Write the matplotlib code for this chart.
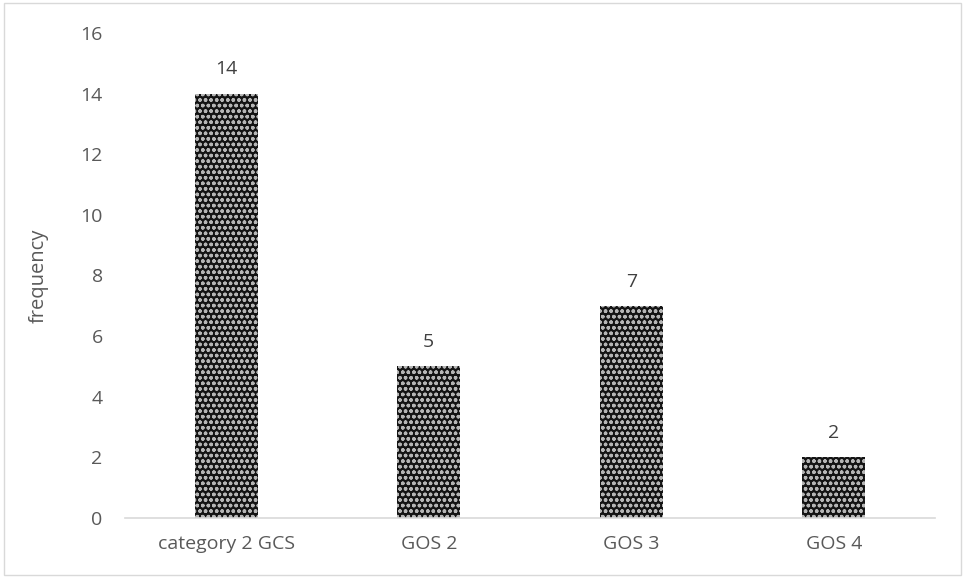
import matplotlib.pyplot as plt
from matplotlib.patches import Rectangle

categories = ['category 2 GCS', 'GOS 2', 'GOS 3', 'GOS 4']
values = [14, 5, 7, 2]
yticks = [0, 2, 4, 6, 8, 10, 12, 14, 16]

plt.rcParams['font.family'] = ['Open Sans', 'DejaVu Sans']
plt.rcParams['hatch.linewidth'] = 1.0

fig = plt.figure(figsize=(9.65, 5.78), dpi=100)
ax = fig.add_axes([0.1295, 0.1038, 0.8395, 0.8392])

bars = ax.bar(range(len(categories)), values, width=0.31,
              color='#141414', edgecolor='#b5b5b5', linewidth=0, hatch='ooo')

for i, v in enumerate(values):
    ax.text(i, v + 0.5, str(v), ha='center', va='bottom', fontsize=14, color='#404040')

ax.set_xlim(-0.5, len(categories) - 0.5)
ax.set_ylim(0, 16)
ax.set_yticks(yticks)
ax.set_xticks(range(len(categories)))
ax.set_xticklabels(categories)
ax.tick_params(axis='both', length=0, labelsize=14, labelcolor='#595959')
ax.tick_params(axis='y', pad=16)
ax.tick_params(axis='x', pad=12)
ax.set_ylabel('frequency', fontsize=14.5, color='#595959', labelpad=23)

for s in ['top', 'right', 'left']:
    ax.spines[s].set_visible(False)
ax.spines['bottom'].set_color('#d9d9d9')
ax.spines['bottom'].set_linewidth(1.2)

fig.patches.append(Rectangle((0.004, 0.006), 0.992, 0.988, transform=fig.transFigure,
                             fill=False, edgecolor='#d9d9d9', linewidth=1))

fig.savefig('out.png', dpi=100)
